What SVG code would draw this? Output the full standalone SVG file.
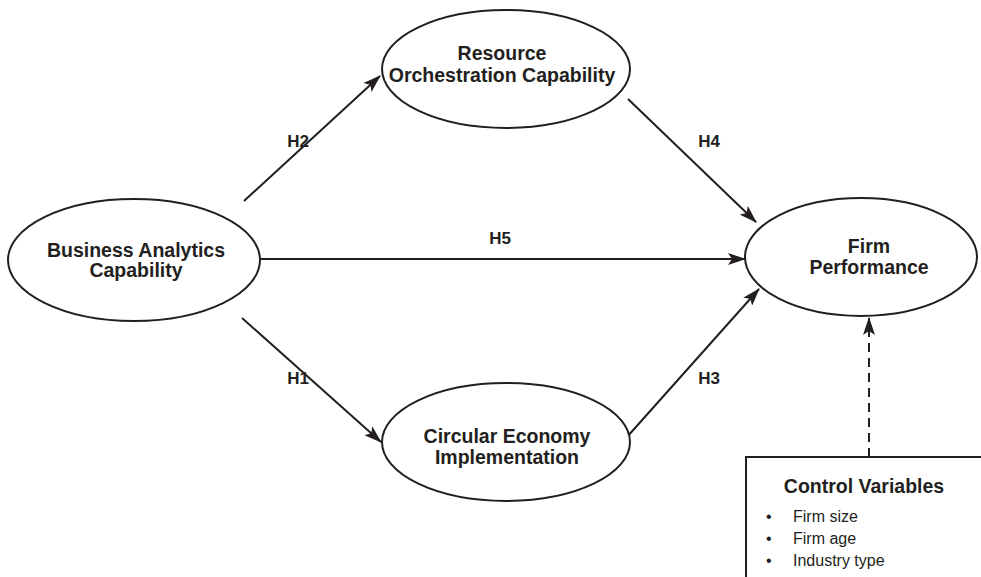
<svg xmlns="http://www.w3.org/2000/svg" width="981" height="577" viewBox="0 0 981 577">
  <defs>
    <marker id="arrow" viewBox="0 0 18 12" refX="17" refY="6" markerWidth="18" markerHeight="12" markerUnits="userSpaceOnUse" orient="auto">
      <path d="M0,0 L18,6 L0,12 L4,6 Z" fill="#231f20"/>
    </marker>
    <style>
      .node ellipse { fill: #fff; stroke: #231f20; stroke-width: 2; }
      .label { font-family: "Liberation Sans", Arial, sans-serif; font-weight: bold; font-size: 19.5px; fill: #231f20; text-anchor: middle; }
      .hyp { font-family: "Liberation Sans", Arial, sans-serif; font-weight: bold; font-size: 17px; fill: #231f20; text-anchor: middle; }
      .edge { stroke: #231f20; stroke-width: 2; fill: none; marker-end: url(#arrow); }
      .item { font-family: "Liberation Sans", Arial, sans-serif; font-size: 16px; fill: #231f20; }
    </style>
  </defs>
  <rect width="981" height="577" fill="#fff"/>

  <g id="connectors">
    <line class="edge" x1="244" y1="201" x2="380" y2="76"/>
    <line class="edge" x1="628" y1="99" x2="756" y2="222"/>
    <line class="edge" x1="259" y1="259" x2="745" y2="259"/>
    <line class="edge" x1="242" y1="318" x2="381" y2="442"/>
    <line class="edge" x1="627" y1="437" x2="759" y2="289"/>
    <line class="edge" x1="869" y1="457" x2="869" y2="318" stroke-dasharray="9 6" marker-end="url(#arrow)"/>
    <text class="hyp" x="298" y="147">H2</text>
    <text class="hyp" x="709" y="147">H4</text>
    <text class="hyp" x="500" y="244">H5</text>
    <text class="hyp" x="298" y="384">H1</text>
    <text class="hyp" x="709" y="384">H3</text>
  </g>

  <g id="bac" class="node">
    <ellipse cx="134" cy="260" rx="126" ry="61"/>
    <text class="label" x="136" y="257">Business Analytics</text>
    <text class="label" x="136" y="277">Capability</text>
  </g>

  <g id="roc" class="node">
    <ellipse cx="506" cy="69" rx="124" ry="59"/>
    <text class="label" x="502" y="60">Resource</text>
    <text class="label" x="502" y="82">Orchestration Capability</text>
  </g>

  <g id="cei" class="node">
    <ellipse cx="506" cy="442" rx="124" ry="59"/>
    <text class="label" x="507" y="443">Circular Economy</text>
    <text class="label" x="507" y="464">Implementation</text>
  </g>

  <g id="fp" class="node">
    <ellipse cx="861" cy="257" rx="116" ry="59"/>
    <text class="label" x="869" y="253">Firm</text>
    <text class="label" x="869" y="274">Performance</text>
  </g>

  <g id="controls">
    <rect x="746" y="457" width="250" height="140" fill="#fff" stroke="#231f20" stroke-width="2"/>
    <text class="label" x="864" y="493">Control Variables</text>
    <text class="item" x="766" y="522">•</text>
    <text class="item" x="793" y="522">Firm size</text>
    <text class="item" x="766" y="544">•</text>
    <text class="item" x="793" y="544">Firm age</text>
    <text class="item" x="766" y="566">•</text>
    <text class="item" x="793" y="566">Industry type</text>
  </g>
</svg>
